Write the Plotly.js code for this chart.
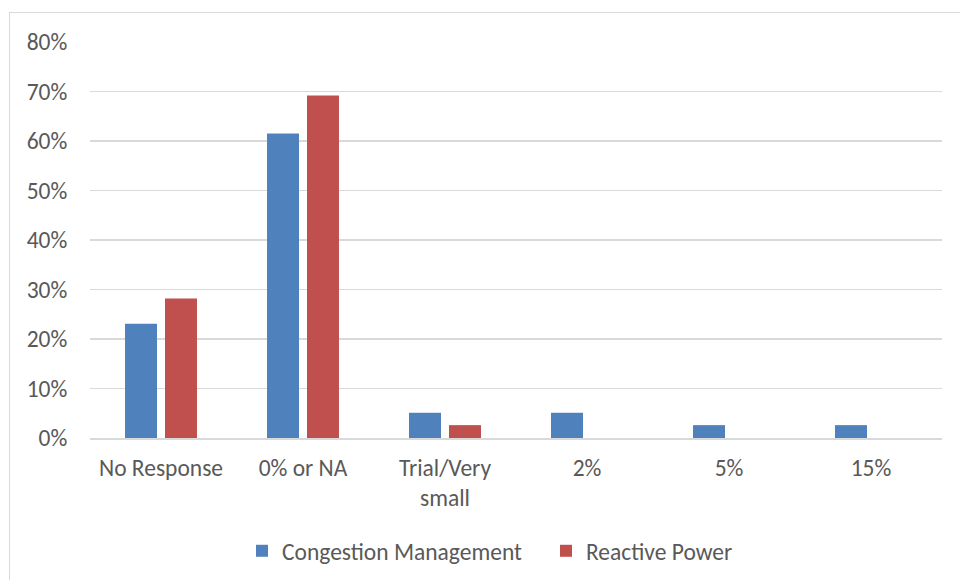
<!DOCTYPE html>
<html>
<head>
<meta charset="utf-8">
<script src="https://cdn.plot.ly/plotly-3.0.1.min.js"></script>
<style>
html,body{margin:0;padding:0;background:#fff;}
#wrap{position:relative;width:960px;height:580px;overflow:hidden;}
#chart{position:absolute;left:0;top:0;width:960px;height:580px;}
#frame{position:absolute;left:9px;top:12px;width:1000px;height:600px;border-left:1.5px solid #d9d9d9;border-top:1.5px solid #d9d9d9;pointer-events:none;}
</style>
</head>
<body>
<div id="wrap"><div id="chart"></div><div id="frame"></div></div>
<script>
const categories = ["No Response", "0% or NA", "Trial/Very<br>small", "2%", "5%", "15%"];
const congestionManagement = [0.231, 0.615, 0.051, 0.051, 0.026, 0.026];
const reactivePower = [0.282, 0.692, 0.026, 0, 0, 0];
const yTickVals = [0, 0.1, 0.2, 0.3, 0.4, 0.5, 0.6, 0.7, 0.8];

const font = {family: "Carlito, Lato, 'Open Sans', sans-serif", size: 23.5, color: "#595959"};

const traces = [
  {type: "bar", name: "Congestion Management", x: categories, y: congestionManagement,
   marker: {color: "#4f81bd", line: {width: 0}}, hoverinfo: "none"},
  {type: "bar", name: "Reactive Power", x: categories, y: reactivePower,
   marker: {color: "#c0504d", line: {width: 0}}, hoverinfo: "none"}
];

const layout = {
  width: 960, height: 580,
  margin: {l: 90, r: 18, t: 42, b: 142},
  paper_bgcolor: "#ffffff", plot_bgcolor: "#ffffff",
  font: font,
  barmode: "group", bargap: 0.437, bargroupgap: 0.2,
  showlegend: true,
  legend: {orientation: "h", xref: "container", yref: "container", x: 242/960, xanchor: "left",
           y: 29/580, yanchor: "middle", entrywidth: 259, entrywidthmode: "pixels",
           font: font, itemwidth: 30, tracegroupgap: 0, traceorder: "normal"},
  xaxis: {type: "category", showgrid: false, zeroline: false, showline: true, automargin: false,
          linecolor: "#d9d9d9", linewidth: 1.5, ticks: "outside", ticklen: 8, tickcolor: "rgba(0,0,0,0)",
          tickfont: font, fixedrange: true},
  yaxis: {range: [0, 0.8], tickvals: yTickVals, tickformat: ".0%", showgrid: true, automargin: false,
          gridcolor: "#d9d9d9", gridwidth: 1.5, zeroline: false, showline: false,
          ticks: "outside", ticklen: 17, tickcolor: "rgba(0,0,0,0)", tickfont: font, fixedrange: true}
};

Plotly.newPlot("chart", traces, layout, {staticPlot: true, displayModeBar: false});
</script>
</body>
</html>
